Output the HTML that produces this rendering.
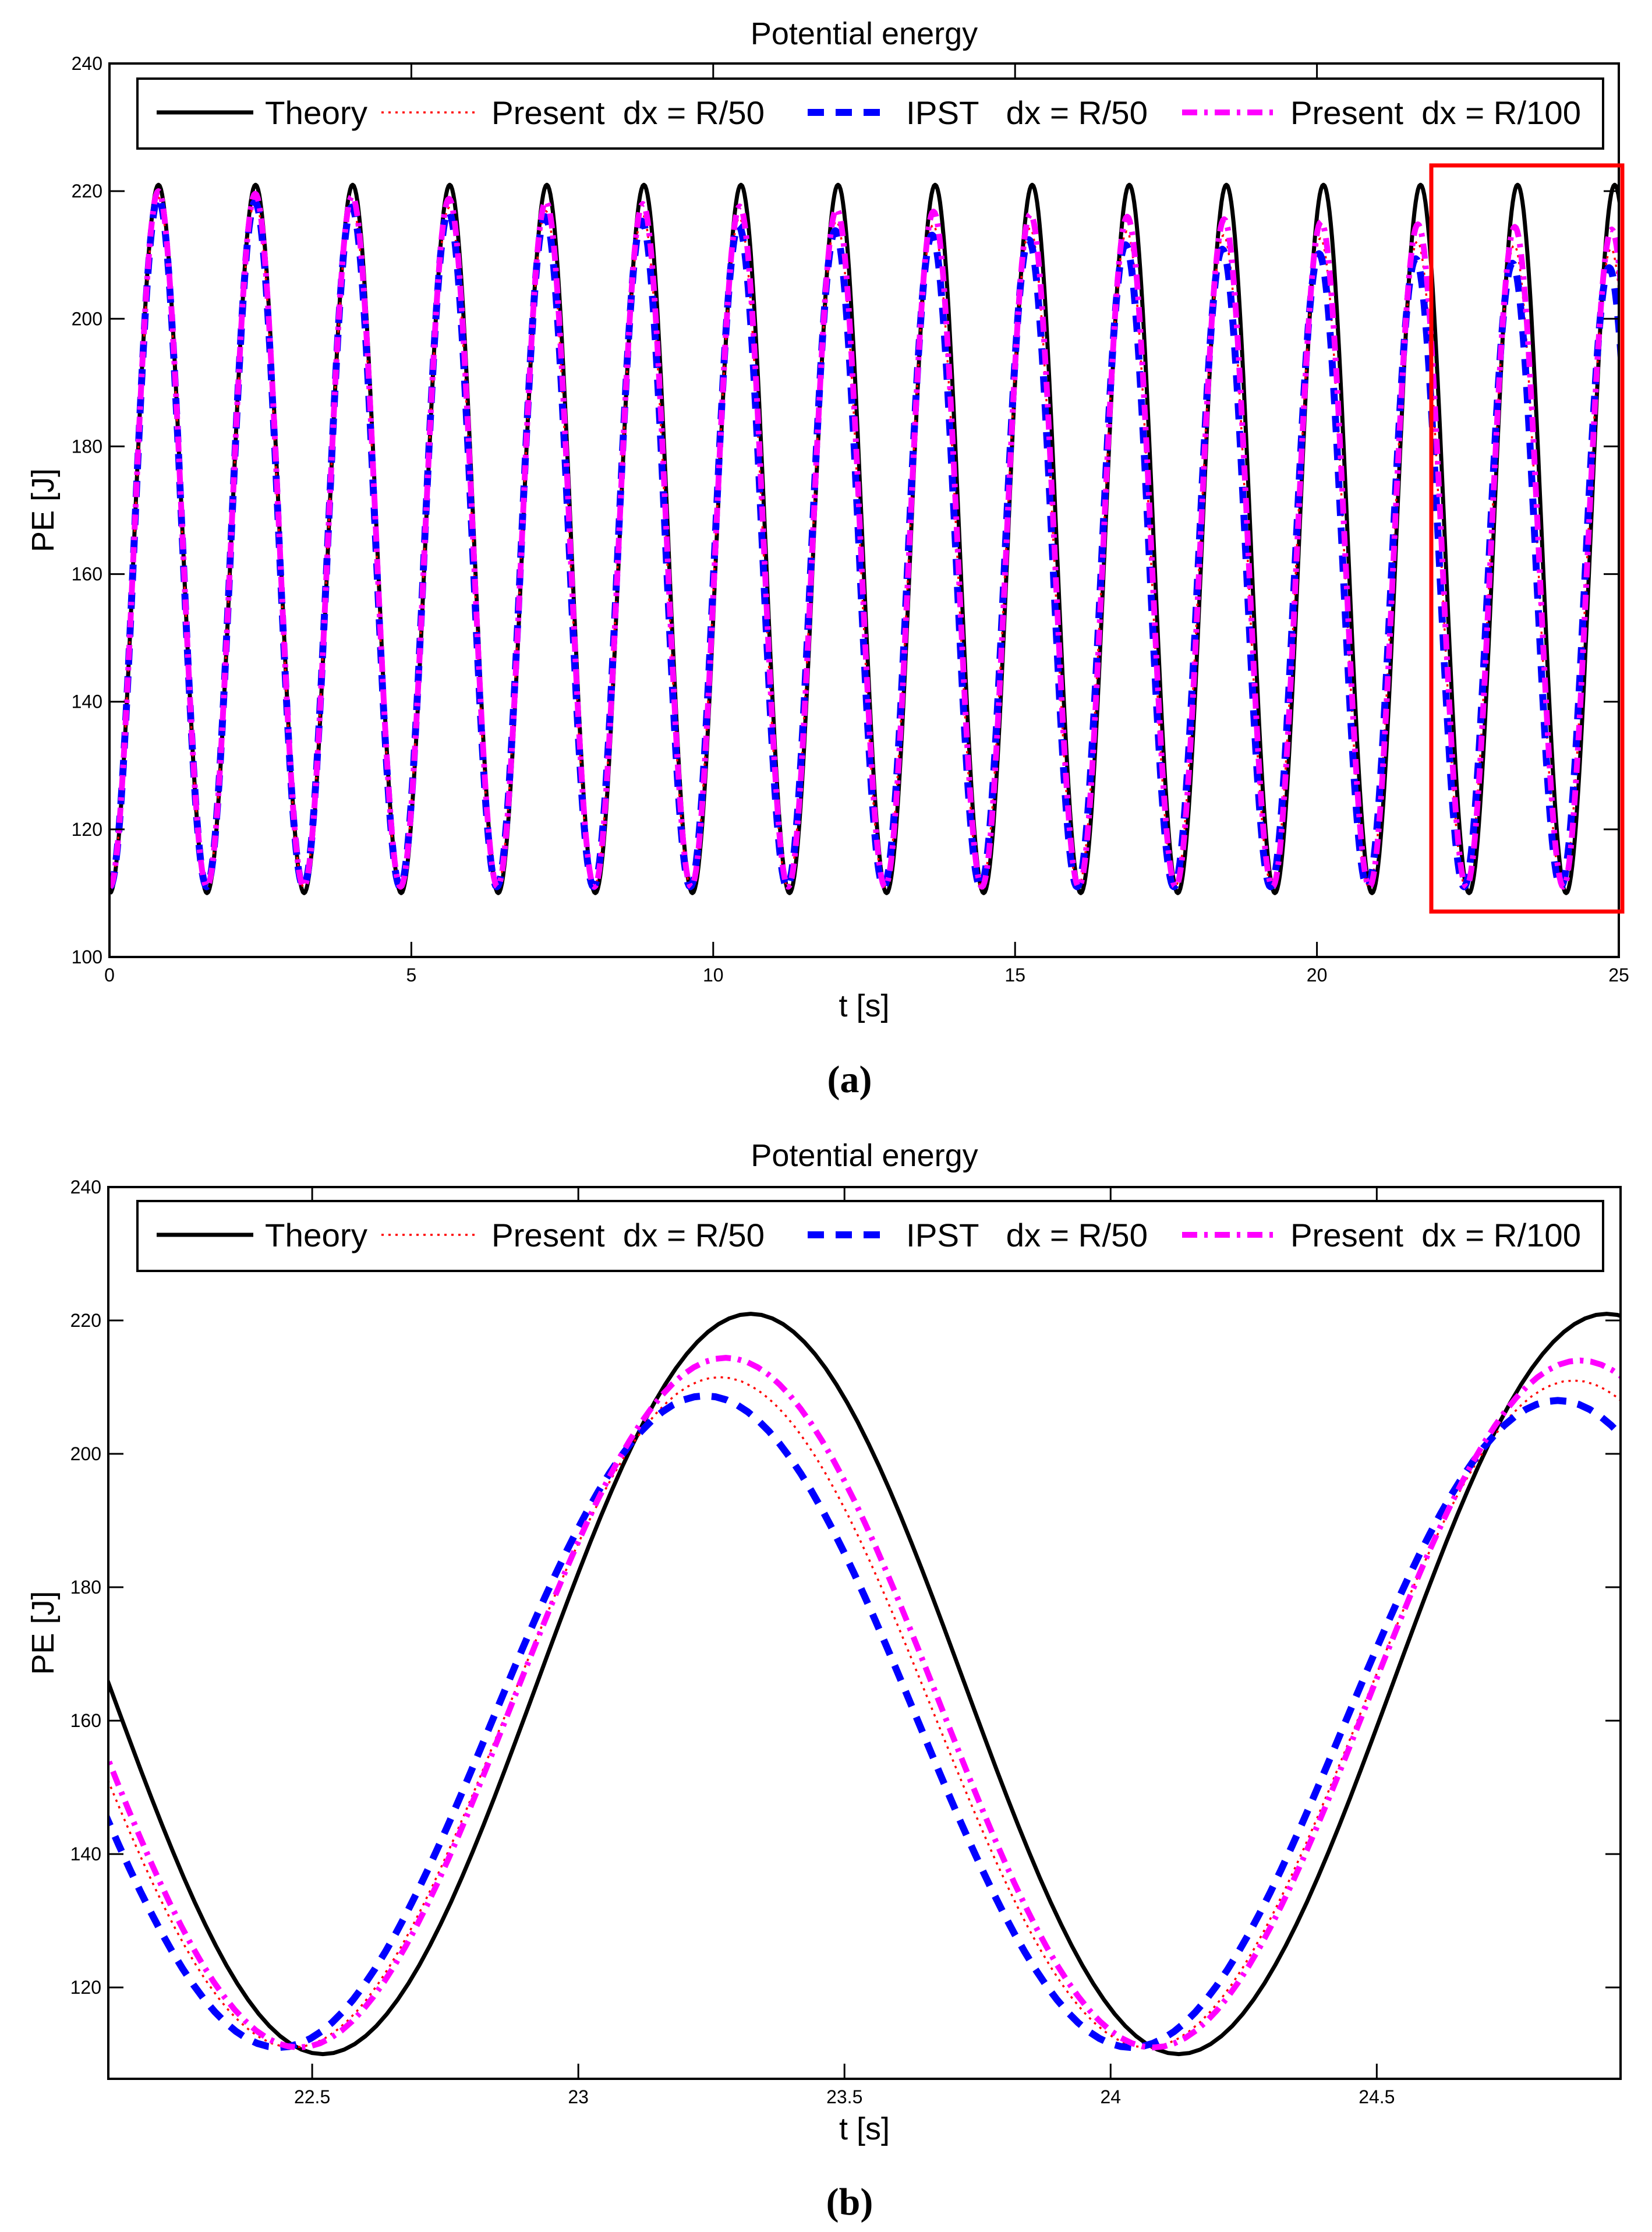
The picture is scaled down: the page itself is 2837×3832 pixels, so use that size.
<!DOCTYPE html>
<html><head><meta charset="utf-8"><style>
html,body{margin:0;padding:0;background:#fff;}
svg{display:block;font-family:"Liberation Sans",sans-serif;}
.lt{white-space:pre;}
</style></head><body>
<svg id="svg" width="2837" height="3832" viewBox="0 0 2837 3832" xmlns="http://www.w3.org/2000/svg"></svg>
<script>
// ---- data: extrema (time, value) of each series ----
const theoryT = [0.008,0.812,1.616,2.42,3.224,4.028,4.832,5.636,6.44,7.244,8.048,8.852,9.656,10.46,11.264,12.068,12.872,13.676,14.48,15.284,16.088,16.892,17.696,18.5,19.304,20.108,20.912,21.716,22.52,23.324,24.128,24.932,25.736];
const theoryV = [110,221,110,221,110,221,110,221,110,221,110,221,110,221,110,221,110,221,110,221,110,221,110,221,110,221,110,221,110,221,110,221,110];
const ipstT = [0.008,0.809,1.610,2.411,3.212,4.013,4.814,5.615,6.416,7.217,8.018,8.819,9.620,10.421,11.222,12.023,12.824,13.625,14.426,15.227,16.028,16.830,17.631,18.432,19.233,20.034,20.835,21.636,22.437,23.238,24.039,24.840,25.64];
const ipstV = [111,219,111,218.3,111,217.5,111,216.8,111,216,111,215.3,111,214.6,111,213.8,111,213.1,111,212.4,111,211.6,111,210.9,111,210.2,111,209.4,111,208.7,111,208,111];
const pres50T = [0.008,0.810,1.612,2.414,3.216,4.018,4.820,5.622,6.424,7.226,8.028,8.830,9.632,10.434,11.236,12.038,12.840,13.642,14.444,15.246,16.048,16.850,17.652,18.454,19.256,20.058,20.860,21.662,22.464,23.266,24.068,24.870,25.67];
const pres50V = [111,219,111,218.5,111,217.9,111,217.4,111,216.9,111,216.3,111,215.8,111,215.3,111,214.7,111,214.2,111,213.7,111,213.1,111,212.6,111,212.1,111,211.5,111,211,111];
const pres100T = [0.008,0.810,1.613,2.415,3.217,4.020,4.822,5.624,6.427,7.229,8.032,8.834,9.636,10.439,11.241,12.044,12.846,13.648,14.451,15.253,16.056,16.858,17.660,18.463,19.265,20.068,20.870,21.672,22.475,23.277,24.080,24.882,25.68];
const pres100V = [111,220,111,219.6,111,219.2,111,218.8,111,218.4,111,218,111,217.6,111,217.2,111,216.8,111,216.4,111,216,111,215.6,111,215.2,111,214.8,111,214.4,111,214,111];
const xTicksA = [0,5,10,15,20,25];
const yTicksA = [100,120,140,160,180,200,220,240];
const xTicksB = [22.5,23,23.5,24,24.5];
const yTicksB = [120,140,160,180,200,220,240];
const legendLabels = ["Theory","Present  dx = R/50","IPST   dx = R/50","Present  dx = R/100"];

const NS="http://www.w3.org/2000/svg";
const svg=document.getElementById('svg');
function mk(tag,attrs,parent){const e=document.createElementNS(NS,tag);for(const k in attrs)e.setAttribute(k,attrs[k]);(parent||svg).appendChild(e);return e;}

const series=[
 {T:theoryT,V:theoryV,name:'theory',stroke:'#000',w:7,dash:''},
 {T:pres50T,V:pres50V,name:'present-r50',stroke:'#ff0000',w:3.5,dash:'4 8'},
 {T:ipstT,V:ipstV,name:'ipst-r50',stroke:'#0000ff',w:12,dash:'28 20'},
 {T:pres100T,V:pres100V,name:'present-r100',stroke:'#ff00ff',w:10,dash:'26 12 6 12'}
];

function drawPanel(p){
  const g=mk('g',{});
  
  
  const sx=t=>p.x0+(t-p.t0)/(p.t1-p.t0)*(p.x1-p.x0);
  const sy=v=>p.y1-(v-p.v0)/(p.v1-p.v0)*(p.y1-p.y0);
  const cp=mk('clipPath',{id:'clip-'+p.id},g);
  mk('rect',{x:p.x0,y:p.y0,width:p.x1-p.x0,height:p.y1-p.y0},cp);
  const ti=mk('text',{x:(p.x0+p.x1)/2,y:p.titleY,'font-size':54,'text-anchor':'middle'},g);
  ti.textContent='Potential energy';
  
  
  const sg=mk('g',{'clip-path':'url(#clip-'+p.id+')'},g);
  series.forEach(s=>{
    let d='';
    for(let i=0;i<s.T.length-1;i++){
      const ta=s.T[i],tb=s.T[i+1],va=s.V[i],vb=s.V[i+1];
      if(tb<p.t0-1||ta>p.t1+1)continue;
      const n=40;
      for(let k=0;k<=n;k++){
        const f=k/n,t=ta+(tb-ta)*f,v=va+(vb-va)*(1-Math.cos(Math.PI*f))/2;
        d+=(d===''?'M':'L')+sx(t).toFixed(1)+' '+sy(v).toFixed(1)+' ';
      }
    }
    const pa=mk('path',{d:d,fill:'none',stroke:s.stroke,'stroke-width':s.w,'stroke-dasharray':s.dash,'stroke-linejoin':'round'},sg);
    
    
  });
  const ax=mk('rect',{x:p.x0,y:p.y0,width:p.x1-p.x0,height:p.y1-p.y0,fill:'none',stroke:'#000','stroke-width':4},g);
  
  
  p.xt.forEach(t=>{
    const x=sx(t);
    mk('line',{x1:x,x2:x,y1:p.y1,y2:p.y1-26,stroke:'#000','stroke-width':3},g);
    mk('line',{x1:x,x2:x,y1:p.y0,y2:p.y0+26,stroke:'#000','stroke-width':3},g);
    const tx=mk('text',{x:x,y:p.y1+42,'font-size':32,'text-anchor':'middle'},g);
    tx.textContent=String(t);
    
    
  });
  p.yt.forEach(v=>{
    const y=sy(v);
    mk('line',{x1:p.x0,x2:p.x0+26,y1:y,y2:y,stroke:'#000','stroke-width':3},g);
    mk('line',{x1:p.x1,x2:p.x1-26,y1:y,y2:y,stroke:'#000','stroke-width':3},g);
    const tx=mk('text',{x:p.x0-12,y:y+11,'font-size':32,'text-anchor':'end'},g);
    tx.textContent=String(v);
    
    
  });
  const xl=mk('text',{x:(p.x0+p.x1)/2,y:p.xlabY,'font-size':54,'text-anchor':'middle'},g);
  xl.textContent='t [s]';
  
  
  const yc=(p.y0+p.y1)/2;
  const yl=mk('text',{x:92,y:yc,'font-size':54,'text-anchor':'middle',transform:'rotate(-90 92 '+yc+')'},g);
  yl.textContent='PE [J]';
  
  
  const lg=mk('g',{},g);
  
  
  mk('rect',{x:236,y:p.legY,width:2517,height:120,fill:'#fff',stroke:'#000','stroke-width':4},lg);
  const ly=p.legY+58;
  const lx=[[269,435,455,176],[655,822,844,469],[1387,1518,1556,415],[2030,2197,2216,499]];
  series.forEach((s,i)=>{
    const e=mk('g',{},lg);
    
    
    mk('line',{x1:lx[i][0],x2:lx[i][1],y1:ly,y2:ly,stroke:s.stroke,'stroke-width':s.w,'stroke-dasharray':s.dash},e);
    const t=mk('text',{x:lx[i][2],y:ly+20,'font-size':56,textLength:lx[i][3],lengthAdjust:'spacingAndGlyphs','class':'lt'},e);
    t.textContent=legendLabels[i];
  });
  const cap=mk('text',{x:1459,y:p.capY,'font-size':66,'font-weight':'bold','text-anchor':'middle','font-family':'"Liberation Serif",serif'},g);
  cap.textContent=p.cap;
  
  
  return {sx,sy,g};
}

drawPanel({id:'panel-a',x0:188,x1:2780,y0:109,y1:1643,t0:0,t1:25,v0:100,v1:240,xt:xTicksA,yt:yTicksA,titleY:76,xlabY:1745,legY:135,capY:1875,cap:'(a)'});
const box=mk('rect',{x:2458,y:284,width:328,height:1281,fill:'none',stroke:'#ff0000','stroke-width':7});


drawPanel({id:'panel-b',x0:186,x1:2783,y0:2038,y1:3569,t0:22.117,t1:24.958,v0:106.3,v1:240,xt:xTicksB,yt:yTicksB,titleY:2002,xlabY:3673,legY:2062,capY:3802,cap:'(b)'});
</script>
</body></html>
